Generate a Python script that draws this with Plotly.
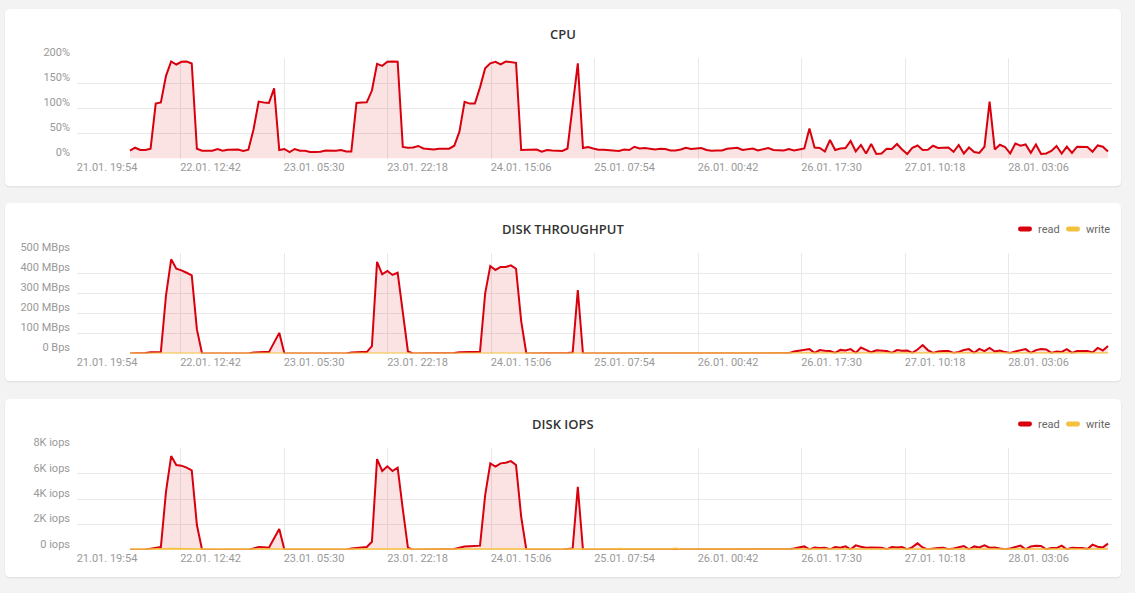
import pandas as pd
import plotly.graph_objects as go

W, H = 1135, 593
RED = "#d9000d"
RED_FILL = "rgba(217, 0, 13, 0.11)"
YELLOW = "#f4c13d"
YELLOW_FILL = "rgba(244, 193, 61, 0.15)"
GRID = "#e9e9e9"
TICK_FONT = dict(family="Roboto", size=11, color="#999999")

# samples every ~50 min, 22.01. 04:30 -> 28.01. 19:15
times = pd.date_range("2020-01-22 04:30", "2020-01-28 19:15", periods=191)

x_range = ["2020-01-21 19:54", "2020-01-28 19:54"]
x_ticks = ["2020-01-21 19:54", "2020-01-22 12:42", "2020-01-23 05:30", "2020-01-23 22:18",
           "2020-01-24 15:06", "2020-01-25 07:54", "2020-01-26 00:42", "2020-01-26 17:30",
           "2020-01-27 10:18", "2020-01-28 03:06"]

cpu = [
    15.5, 21.5, 17, 17, 19.5, 109.6, 112, 165, 193.6, 187.6,
    193, 193.6, 189.6, 19.5, 15.5, 15, 15.5, 19, 15.5, 17.5,
    17.5, 18, 15, 17.5, 58, 113.6, 112, 111, 140, 17,
    19, 13, 19, 15.5, 15.5, 13, 13, 13.5, 16, 15,
    15.5, 17, 14, 14, 111, 111.6, 112, 135.6, 189, 185,
    193, 193.6, 193, 23, 21.5, 22, 25, 20, 19, 18,
    19.5, 19, 19.5, 25.5, 53.5, 113, 109.6, 109.6, 142, 180,
    190, 193, 188, 193.6, 192, 191, 17, 17, 17.5, 18,
    13.5, 17, 16, 16, 15, 20, 105, 190, 21, 23,
    20, 17.5, 17.5, 17, 16, 15, 18, 17, 23.5, 20,
    21, 19, 18, 19.5, 19, 16, 16, 18, 21.5, 19,
    20, 21, 17, 15.5, 16, 16, 19.5, 21, 21.5, 17,
    19, 20, 16, 19, 21, 17, 16, 16, 19, 16,
    18, 20, 60, 22, 21, 14, 37, 17, 20, 21,
    35, 14, 27, 10, 29, 9, 10, 19.5, 19, 29,
    18, 9, 21.5, 26, 17, 17.5, 25.5, 21, 21.5, 22,
    13.5, 27, 10, 22, 13, 11, 23.5, 113.6, 18, 27.5,
    23, 10, 30, 25.5, 28, 11.5, 28, 9, 10, 15,
    25, 10, 23.5, 11, 23.5, 23.5, 23, 13.5, 26, 23.5,
    14,
]

disk_read = [
    0, 0, 0, 2, 6, 7, 8, 290, 470, 423,
    415, 403, 390, 120, 0, 0, 0, 0, 0, 0,
    0, 0, 0, 0, 5, 7, 7, 7, 55, 103,
    0, 0, 0, 0, 0, 0, 0, 0, 0, 0,
    0, 0, 0, 5, 7, 7, 7, 37, 457, 395,
    412, 392, 403, 200, 10, 0, 0, 0, 0, 0,
    0, 0, 0, 2, 6, 8, 8, 8, 9, 300,
    437, 417, 432, 432, 440, 423, 162, 0, 0, 0,
    0, 0, 0, 0, 0, 3, 5, 317, 0, 0,
    0, 0, 0, 0, 0, 0, 0, 0, 0, 0,
    0, 0, 0, 0, 0, 0, 2, 1, 0, 0,
    0, 0, 0, 0, 0, 0, 0, 0, 0, 0,
    0, 0, 0, 0, 0, 0, 0, 0, 2, 10,
    15, 18, 22, 3, 17, 14, 12, 3, 18, 15,
    22, 3, 30, 18, 6, 16, 15, 12, 3, 17,
    14, 15, 3, 20, 42, 17, 3, 10, 12, 13,
    3, 8, 17, 22, 3, 23, 12, 28, 10, 15,
    7, 3, 10, 17, 22, 3, 17, 22, 20, 3,
    10, 8, 22, 3, 12, 12, 12, 5, 28, 15,
    38,
]

disk_write = [
    0, 0, 1, 1, 1, 1, 1, 2, 2, 2,
    2, 2, 2, 1, 1, 1, 1, 0, 0, 1,
    1, 1, 0, 1, 1, 1, 1, 1, 1, 1,
    0, 0, 1, 1, 0, 0, 1, 1, 0, 0,
    1, 1, 1, 1, 1, 1, 1, 1, 2, 2,
    2, 2, 2, 1, 1, 1, 0, 0, 1, 1,
    0, 1, 1, 1, 1, 1, 1, 1, 1, 2,
    2, 2, 2, 2, 2, 2, 1, 1, 1, 0,
    1, 1, 0, 1, 1, 1, 1, 2, 1, 1,
    1, 1, 1, 1, 1, 2, 1, 1, 1, 1,
    2, 1, 1, 1, 1, 1, 2, 1, 1, 1,
    1, 2, 1, 1, 1, 1, 1, 2, 1, 1,
    1, 1, 1, 1, 1, 2, 1, 1, 1, 1,
    1, 1, 2, 1, 1, 1, 1, 1, 1, 1,
    2, 1, 1, 1, 1, 1, 1, 1, 2, 1,
    1, 1, 1, 1, 2, 1, 1, 1, 1, 1,
    1, 1, 1, 1, 1, 1, 1, 2, 1, 1,
    1, 1, 1, 1, 1, 1, 1, 1, 1, 1,
    2, 1, 1, 1, 1, 1, 1, 1, 1, 1,
    1,
]

iops_read = [
    0, 0, 0, 20, 80, 160, 210, 4580, 7390, 6680,
    6630, 6470, 6260, 1950, 0, 0, 0, 0, 0, 0,
    0, 0, 0, 0, 100, 210, 190, 160, 900, 1630,
    0, 0, 0, 0, 0, 0, 0, 0, 0, 0,
    0, 0, 0, 100, 150, 180, 210, 630, 7150, 6210,
    6580, 6210, 6470, 3200, 150, 0, 0, 0, 0, 0,
    0, 0, 0, 50, 150, 250, 270, 300, 320, 4300,
    6810, 6550, 6810, 6860, 6990, 6680, 2600, 0, 0, 0,
    0, 0, 0, 0, 0, 60, 100, 4970, 0, 0,
    0, 0, 0, 0, 0, 0, 0, 0, 0, 0,
    0, 0, 0, 0, 0, 0, 20, 10, 0, 0,
    0, 0, 0, 0, 0, 0, 0, 0, 0, 0,
    0, 0, 0, 0, 0, 0, 0, 0, 30, 100,
    180, 260, 30, 180, 130, 160, 30, 210, 160, 260,
    30, 340, 240, 160, 180, 180, 160, 30, 210, 180,
    210, 30, 210, 500, 180, 30, 100, 130, 160, 30,
    100, 210, 290, 30, 260, 180, 340, 160, 180, 100,
    30, 100, 240, 320, 30, 260, 320, 290, 30, 130,
    130, 320, 30, 160, 130, 130, 50, 400, 240, 180,
    480,
]

iops_write = [
    10, 10, 20, 30, 30, 40, 40, 60, 70, 60,
    60, 60, 50, 40, 30, 30, 30, 20, 20, 30,
    30, 30, 20, 30, 40, 40, 40, 40, 40, 30,
    20, 20, 30, 30, 20, 20, 30, 30, 20, 20,
    30, 30, 30, 30, 40, 40, 40, 40, 60, 60,
    60, 60, 60, 40, 30, 30, 20, 20, 30, 30,
    20, 30, 30, 30, 40, 40, 40, 40, 40, 60,
    60, 60, 60, 60, 60, 60, 30, 30, 30, 20,
    30, 30, 20, 30, 30, 30, 40, 60, 40, 40,
    40, 40, 50, 40, 40, 80, 40, 40, 50, 40,
    80, 40, 40, 40, 40, 50, 90, 40, 40, 40,
    40, 80, 40, 40, 40, 50, 40, 90, 40, 40,
    40, 40, 40, 40, 40, 80, 40, 40, 40, 40,
    40, 40, 70, 40, 40, 40, 40, 40, 40, 40,
    70, 40, 40, 40, 40, 40, 40, 40, 70, 40,
    40, 40, 40, 40, 70, 40, 40, 40, 40, 40,
    40, 40, 40, 40, 40, 40, 40, 70, 40, 40,
    40, 40, 40, 40, 40, 40, 40, 40, 40, 40,
    70, 40, 40, 40, 40, 40, 40, 40, 40, 40,
    40,
]

cpu_ticks = [0, 50, 100, 150, 200]
cpu_labels = ["0%", "50%", "100%", "150%", "200%"]
disk_ticks = [0, 100, 200, 300, 400, 500]
disk_labels = ["0 Bps", "100 MBps", "200 MBps", "300 MBps", "400 MBps", "500 MBps"]
iops_ticks = [0, 2000, 4000, 6000, 8000]
iops_labels = ["0 iops", "2K iops", "4K iops", "6K iops", "8K iops"]

titles = ["CPU", "DISK THROUGHPUT", "DISK IOPS"]
legend_names = ["read", "write"]


def px(x):
    return x / W


def py(y):
    return 1 - y / H


def rounded_rect(x0, y0, x1, y1, r):
    p = lambda x, y: f"{px(x):.5f},{py(y):.5f}"
    return (f"M{p(x0 + r, y0)} L{p(x1 - r, y0)} Q{p(x1, y0)} {p(x1, y0 + r)} "
            f"L{p(x1, y1 - r)} Q{p(x1, y1)} {p(x1 - r, y1)} L{p(x0 + r, y1)} "
            f"Q{p(x0, y1)} {p(x0, y1 - r)} L{p(x0, y0 + r)} Q{p(x0, y0)} {p(x0 + r, y0)} Z")


# pixel layout of the three cards: (card top, card bottom, plot top, plot bottom, title y)
panels = [
    (9, 186, 58.3, 158.5, 34),
    (203, 381, 253.3, 353.5, 229),
    (399, 577, 448.3, 549.7, 424),
]
PLOT_X0, PLOT_X1 = 77, 1112
CARD_X0, CARD_X1 = 5, 1121

fig = go.Figure()

series = [
    [(cpu, RED, RED_FILL)],
    [(disk_read, RED, RED_FILL), (disk_write, YELLOW, YELLOW_FILL)],
    [(iops_read, RED, RED_FILL), (iops_write, YELLOW, YELLOW_FILL)],
]
for n, group in enumerate(series):
    suffix = "" if n == 0 else str(n + 1)
    for values, color, fill in group:
        fig.add_trace(go.Scatter(
            x=times, y=values, mode="lines",
            line=dict(color=color, width=2),
            fill="tozeroy", fillcolor=fill,
            xaxis="x" + suffix, yaxis="y" + suffix,
            showlegend=False, hoverinfo="skip",
        ))

y_setup = [
    ([0, 200], cpu_ticks, cpu_labels),
    ([0, 500], disk_ticks, disk_labels),
    ([0, 8000], iops_ticks, iops_labels),
]

shapes = []
annotations = []
layout_axes = {}
for n, ((c_top, c_bot, p_top, p_bot, t_y), (yr, tv, tt)) in enumerate(zip(panels, y_setup)):
    suffix = "" if n == 0 else str(n + 1)
    layout_axes["xaxis" + suffix] = dict(
        domain=[px(PLOT_X0), px(PLOT_X1)], range=x_range, type="date",
        anchor="y" + suffix, tickvals=x_ticks, tickformat="%d.%m. %H:%M",
        showgrid=True, gridcolor=GRID, gridwidth=1, zeroline=False, showline=False,
        ticks="", tickfont=TICK_FONT, ticklabelshift=30, ticklabelstandoff=0,
        automargin=False,
    )
    layout_axes["yaxis" + suffix] = dict(
        domain=[py(p_bot), py(p_top)], range=yr, anchor="x" + suffix,
        tickvals=tv, ticktext=tt, showgrid=True, gridcolor=GRID, gridwidth=1,
        zeroline=False, showline=False, ticks="", tickfont=TICK_FONT,
        ticklabelshift=-6, ticklabelstandoff=6, automargin=False,
    )
    # card with a faint shadow
    shapes.append(dict(type="path", xref="paper", yref="paper", layer="below",
                       path=rounded_rect(CARD_X0 - 0.5, c_top, CARD_X1 + 0.5, c_bot + 1.5, 6),
                       fillcolor="rgba(0,0,0,0.06)", line=dict(width=0)))
    shapes.append(dict(type="path", xref="paper", yref="paper", layer="below",
                       path=rounded_rect(CARD_X0, c_top, CARD_X1, c_bot, 5),
                       fillcolor="white", line=dict(width=0)))
    annotations.append(dict(
        text=titles[n], x=px((CARD_X0 + CARD_X1) / 2), y=py(t_y), xref="paper", yref="paper",
        xanchor="center", yanchor="middle", showarrow=False,
        font=dict(family="Open Sans", size=13, color="#333333", weight=600),
    ))
    if n > 0:
        for (bx, tx), name, color in zip([(1018, 1036), (1066, 1084)], legend_names, [RED, YELLOW]):
            shapes.append(dict(type="path", xref="paper", yref="paper",
                               path=rounded_rect(bx, t_y - 2.5, bx + 14, t_y + 2.5, 2.4),
                               fillcolor=color, line=dict(width=0)))
            annotations.append(dict(
                text=name, x=px(tx), y=py(t_y), xref="paper", yref="paper",
                xanchor="left", yanchor="middle", showarrow=False,
                font=dict(family="Roboto", size=11, color="#666666"),
            ))

fig.update_layout(
    width=W, height=H, autosize=False,
    margin=dict(l=0, r=0, t=0, b=0, pad=0, autoexpand=False),
    paper_bgcolor="#f3f3f3", plot_bgcolor="rgba(0,0,0,0)",
    showlegend=False, shapes=shapes, annotations=annotations,
    **layout_axes,
)

fig.write_html("out.html", config={"displayModeBar": False},
               post_script="document.body.style.margin='0';"
                           "document.body.style.overflow='hidden';"
                           "document.body.style.background='#f3f3f3';")
